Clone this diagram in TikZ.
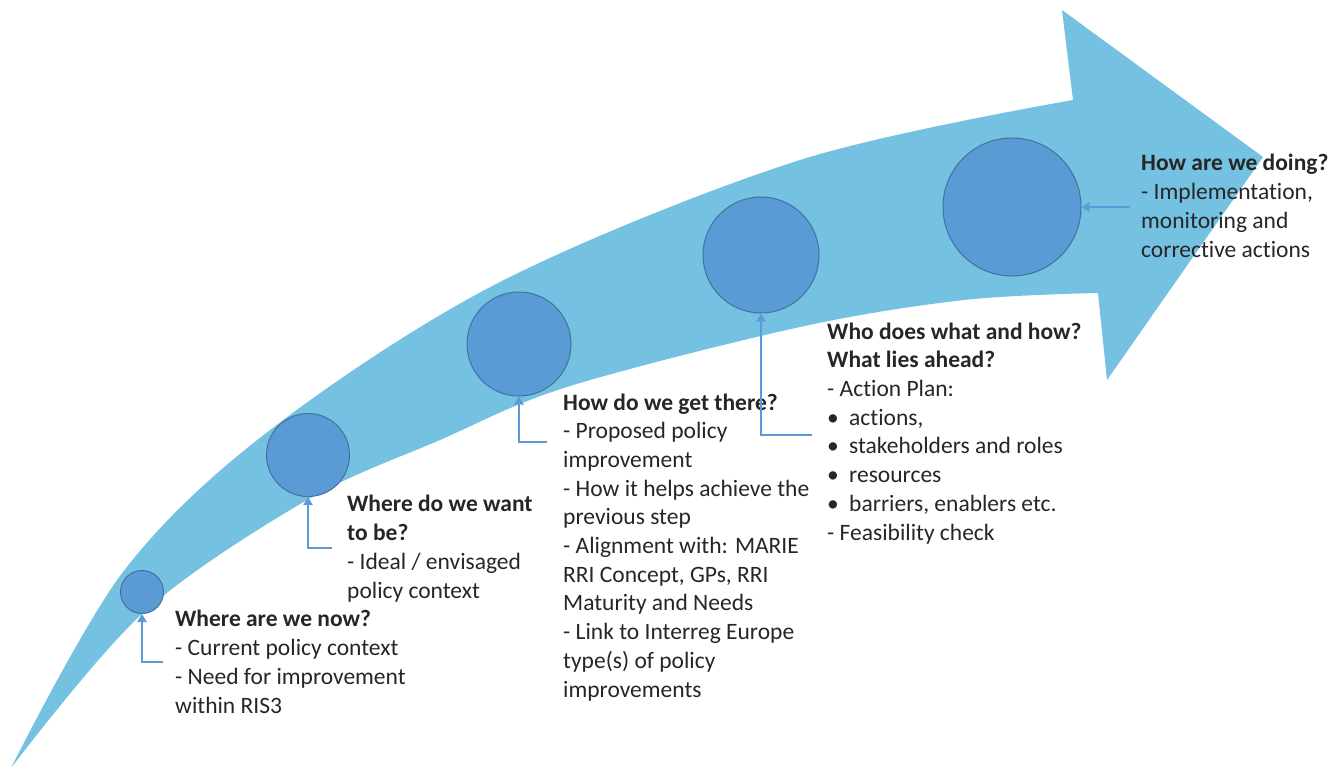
\documentclass[tikz,border=0pt]{standalone}
\usepackage{fontspec}
\setmainfont[Ligatures=NoCommon]{Carlito}
\usetikzlibrary{arrows.meta}
\definecolor{band}{RGB}{117,193,225}
\definecolor{disc}{RGB}{91,155,213}
\definecolor{discline}{RGB}{65,113,156}
\definecolor{conncol}{RGB}{91,155,213}
\definecolor{txt}{RGB}{38,38,38}
\newcommand{\bul}{\makebox[22pt][l]{\textbullet}}
\tikzset{
  stage/.style={circle, draw=discline, line width=1pt, fill=disc, inner sep=0pt},
  conn/.style={draw=conncol, line width=2.5pt, -{Triangle[length=8pt,width=9pt]}},
  lbl/.style={anchor=base west, align=left, inner sep=0pt, text=txt,
    font=\fontsize{23.5}{28.7}\selectfont},
}
\begin{document}
\begin{tikzpicture}[x=1pt,y=-1pt]
\useasboundingbox (0,0) rectangle (1344,771);
% big curved arrow
\fill[band] plot[smooth, tension=0.55] coordinates {(11,768) (123,572) (270,430) (500,282) (800,160) (1073,100)}
  -- (1062,10) -- (1263,157) -- (1107,380) -- (1098,293)
  -- plot[smooth, tension=0.55] coordinates {(1098,293) (964,300) (800,327) (567,387) (440,440) (307,500) (143,613) (11,768)}
  -- cycle;
% circles
\node[stage, minimum size=43pt] (c1) at (142,592) {};
\node[stage, minimum size=83pt] (c2) at (308,455) {};
\node[stage, minimum size=104pt] (c3) at (519,344) {};
\node[stage, minimum size=116pt] (c4) at (761,255) {};
\node[stage, minimum size=138pt] (c5) at (1012,207) {};
% labels (anchored at the baseline of their last line)
\node[lbl] (t1) at (175,713) {\textbf{Where are we now?}\\- Current policy context\\- Need for improvement\\within RIS3};
\node[lbl] (t2) at (347,598) {\textbf{Where do we want}\\\textbf{to be?}\\- Ideal / envisaged\\policy context};
\node[lbl] (t3) at (563,697) {\textbf{How do we get there?}\\- Proposed policy\\improvement\\- How it helps achieve the\\previous step\\- Alignment with: MARIE\\RRI Concept, GPs, RRI\\Maturity and Needs\\- Link to Interreg Europe\\type(s) of policy\\improvements};
\node[lbl] (t4) at (827,540) {\textbf{Who does what and how?}\\\textbf{What lies ahead?}\\- Action Plan:\\\bul actions,\\\bul stakeholders and roles\\\bul resources\\\bul barriers, enablers etc.\\- Feasibility check};
\node[lbl] (t5) at (1141,257) {\textbf{How are we doing?}\\- Implementation,\\monitoring and\\corrective actions};
% connectors
\coordinate (k1) at (163,662);
\coordinate (k2) at (332,548);
\coordinate (k3) at (547,442);
\coordinate (k4) at (812,435);
\coordinate (k5) at (1130,207);
\draw[conn] (k1) -| (c1.south);
\draw[conn] (k2) -| (c2.south);
\draw[conn] (k3) -| (c3.south);
\draw[conn] (k4) -| (c4.south);
\draw[conn] (k5) -- (c5.east);
\end{tikzpicture}
\end{document}
